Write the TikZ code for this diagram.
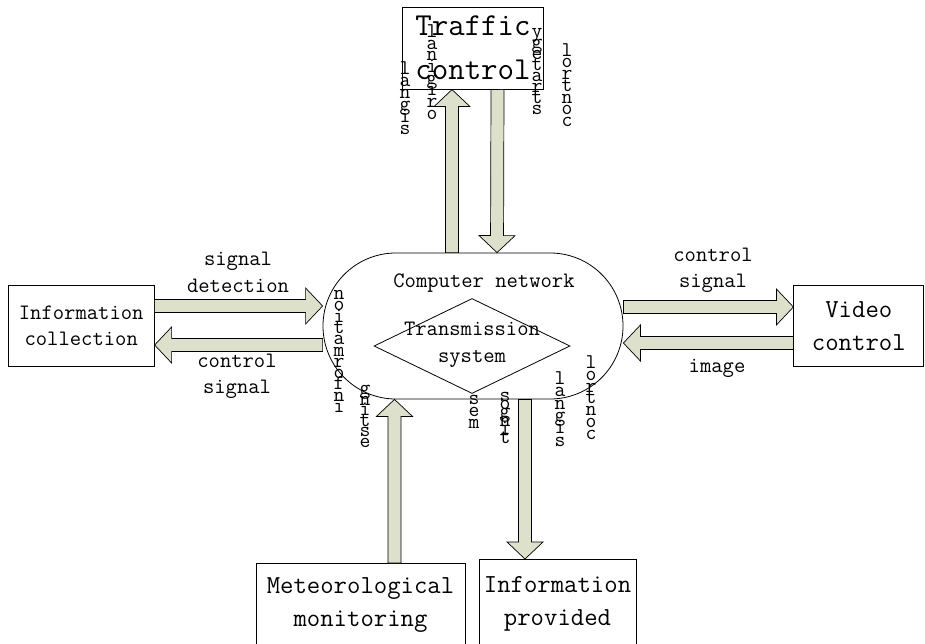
\documentclass[tikz,border=0pt]{standalone}
\usepackage{fontspec}
\usetikzlibrary{calc,positioning,shapes.geometric}
\definecolor{flowfill}{RGB}{221,225,203}
% stacked letters, packed closer than their height
\newcommand{\vfont}[1]{\ttfamily\fontsize{21}{#1}\selectfont\lineskiplimit=-\maxdimen}

\begin{document}
\begin{tikzpicture}[x=1pt,y=-1pt,line width=0.8pt,
    box/.style={draw,fill=white,align=center,inner sep=0pt},
    txt/.style={align=center,inner sep=0pt,font=\ttfamily\fontsize{22}{26.5}\selectfont},
    bigtxt/.style={align=center,inner sep=0pt,font=\ttfamily\fontsize{26}{33}\selectfont},
    vcol/.style={align=center,inner sep=0pt,font={\vfont{#1}}},
    flow/.style={draw,fill=flowfill,line width=0.7pt,
      to path={($(\tikztostart)!6.5pt!90:(\tikztotarget)$)
        -- ($(\tikztotarget)!17pt!(\tikztostart)!6.5pt!-90:(\tikztostart)$)
        -- ($(\tikztotarget)!17pt!(\tikztostart)!18pt!-90:(\tikztostart)$)
        -- (\tikztotarget)
        -- ($(\tikztotarget)!17pt!(\tikztostart)!18pt!90:(\tikztostart)$)
        -- ($(\tikztotarget)!17pt!(\tikztostart)!6.5pt!90:(\tikztostart)$)
        -- ($(\tikztostart)!6.5pt!-90:(\tikztotarget)$) -- cycle}}]
 \useasboundingbox (0,0) rectangle (925,644);
 % centre: network with the transmission system
 \node[box,rounded corners=72.9pt,minimum width=300pt,minimum height=146pt] (net) at (473,326) {};
 \node[txt] (nettitle) at (484,283) {Computer network};
 \node[diamond,draw,minimum width=196pt,minimum height=95pt,inner sep=0pt] (trans) at (472,346) {};
 \node[txt] (transtxt) at (472,345) {Transmission\\system};
 % outer blocks
 \node[box,minimum width=141pt,minimum height=82pt,above=163pt of net,
   font=\ttfamily\fontsize{32}{44}\selectfont] (traffic) {Traffic\\control};
 \node[box,txt,minimum width=146pt,minimum height=81pt,left=168pt of net] (info) {Information\\collection};
 \node[box,bigtxt,minimum width=130pt,minimum height=81pt,right=170pt of net] (video) {Video\\control};
 \node[box,bigtxt,minimum width=209pt,minimum height=84pt,anchor=north] (meteo) at (360.5,563) {Meteorological\\monitoring};
 \node[box,bigtxt,minimum width=157pt,minimum height=88pt,anchor=north] (provided) at (557.5,559) {Information\\provided};
 % ends of the flows
 \coordinate (up0) at ([xshift=-21pt]net.north);
 \coordinate (up1) at ([xshift=-21pt]traffic.south);
 \coordinate (dn0) at ([xshift=24.5pt]traffic.south);
 \coordinate (dn1) at ([xshift=24pt]net.north);
 \coordinate (lr0) at ([yshift=20pt]info.east);
 \coordinate (lr1) at ([yshift=20pt]net.west);
 \coordinate (ll0) at ([yshift=-19pt]net.west);
 \coordinate (ll1) at ([yshift=-19pt]info.east);
 \coordinate (rr0) at ([yshift=19pt]net.east);
 \coordinate (rr1) at ([yshift=19pt]video.west);
 \coordinate (rl0) at ([yshift=-17pt]video.west);
 \coordinate (rl1) at ([yshift=-17pt]net.east);
 \coordinate (bu0) at ([xshift=34pt]meteo.north);
 \coordinate (bu1) at ([xshift=-78.5pt]net.south);
 \coordinate (bd0) at ([xshift=52pt]net.south);
 \coordinate (bd1) at ([xshift=-32.5pt]provided.north);
 \foreach \a/\b in {up0/up1,dn0/dn1,lr0/lr1,ll0/ll1,rr0/rr1,rl0/rl1,bu0/bu1,bd0/bd1}
   \draw[flow] (\a) to (\b);
 % flow labels
 \node[txt] (detlbl) at (238,272.5) {signal\\detection};
 \node[txt] (ctllbl) at (237,376.5) {control\\signal};
 \node[txt] (outlbl) at (713,270.5) {control\\signal};
 \node[txt] (imglbl) at (717,368) {image};
 % upright letter columns
 \node[vcol=11.9] (vsig) at (405,98) {l\\a\\n\\g\\i\\s};
 \node[vcol=11.7] (vorig) at (432,72) {l\\a\\n\\i\\g\\i\\r\\o};
 \node[vcol=11] (vstrat) at (537,71.5) {y\\g\\e\\t\\a\\r\\t\\s};
 \node[vcol=11.7] (vctl) at (567,85) {l\\o\\r\\t\\n\\o\\c};
 \node[vcol=11.3] (vinfo) at (339,351.5) {n\\o\\i\\t\\a\\m\\r\\o\\f\\n\\i};
 \node[vcol=10.6] (vtest) at (365,416.5) {g\\n\\i\\t\\s\\e};
 \node[vcol=12] (vmes) at (474,412) {s\\e\\m};
 \node[vcol=8.4] (vlog) at (505,417.5) {s\\o\\g\\n\\i\\t};
 \node[vcol=12.4] (vsig2) at (560,409) {l\\a\\n\\g\\i\\s};
 \node[vcol=11.8] (vctl2) at (591,397.5) {l\\o\\r\\t\\n\\o\\c};
\end{tikzpicture}
\end{document}
